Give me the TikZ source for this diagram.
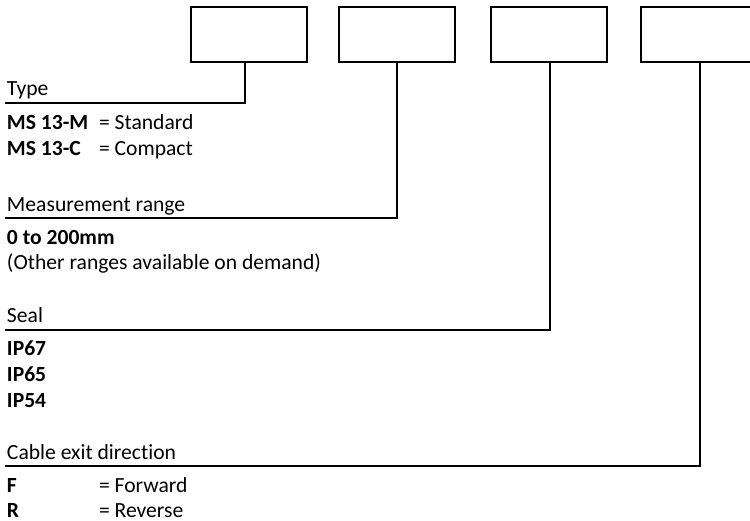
\documentclass[tikz,border=0pt]{standalone}
\usepackage{fontspec}
\setmainfont{Carlito}[Ligatures={NoCommon}]

\begin{document}
\begin{tikzpicture}[
  x=0.75pt, y=-0.75pt,
  box/.style={draw, line width=1.2pt, minimum width=87pt, minimum height=41.25pt, inner sep=0pt, outer sep=0pt},
  txt/.style={anchor=base west, inner sep=0pt, outer sep=0pt, font=\fontsize{16.2}{19}\selectfont},
  code/.style={txt, font=\fontsize{16.2}{19}\selectfont\bfseries},
  conn/.style={line width=1.2pt}
]
\useasboundingbox (0,0) rectangle (750,521);
% order-code boxes along the top
\node[box] (typebox) at (249,34.5) {};
\node[box] (rangebox) at (397,34.5) {};
\node[box] (sealbox) at (549,34.5) {};
\node[box] (exitbox) at (699,34.5) {};

% type
\node[txt] (typelbl) at (7,95) {Type};
\coordinate (typeend) at (5,103);
\node[code] (msm) at (7,129) {MS 13-M};
\node[txt] (msmval) at (99,129) {= Standard};
\node[code] (msc) at (7,155) {MS 13-C};
\node[txt] (mscval) at (99,155) {= Compact};

% measurement range
\node[txt] (rangelbl) at (7,211) {Measurement range};
\coordinate (rangeend) at (5,218);
\node[code] (range) at (7,244) {0 to 200mm};
\node[txt] (rangenote) at (7,269) {(Other ranges available on demand)};

% seal
\node[txt] (seallbl) at (7,322) {Seal};
\coordinate (sealend) at (5,330);
\node[code] (ipa) at (7,355) {IP67};
\node[code] (ipb) at (7,381) {IP65};
\node[code] (ipc) at (7,407) {IP54};

% cable exit
\node[txt] (exitlbl) at (7,459) {Cable exit direction};
\coordinate (exitend) at (5,466);
\node[code] (fwd) at (7,492) {F};
\node[txt] (fwdval) at (99,492) {= Forward};
\node[code] (rev) at (7,517) {R};
\node[txt] (revval) at (99,517) {= Reverse};

% stems: the type stem sits left of its box centre
\draw[conn] ([xshift=-3pt]typebox.south) |- (typeend);
\draw[conn] (rangebox.south) |- (rangeend);
\draw[conn] ([xshift=0.75pt]sealbox.south) |- (sealend);
\draw[conn] ([xshift=0.75pt]exitbox.south) |- (exitend);
\end{tikzpicture}
\end{document}
